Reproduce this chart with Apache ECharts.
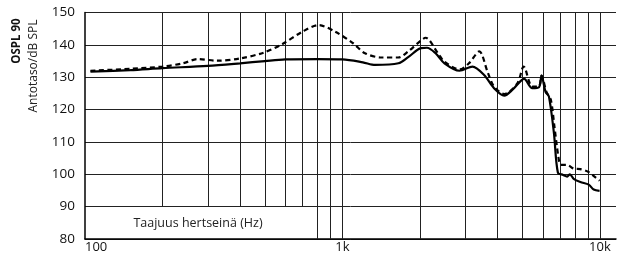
<!DOCTYPE html>
<html><head><meta charset="utf-8">
<script src="https://cdn.jsdelivr.net/npm/echarts@6/dist/echarts.min.js"></script>
<style>html,body{margin:0;padding:0;background:#fff}#c{width:619px;height:258px}</style>
</head><body><div id="c"></div>
<script>
// Data
const solidFreq = [105,150,200,300,400,500,600,800,1000,1200,1340,1650,1800,2020,2130,2300,2490,2850,3200,3550,3880,4250,4600,5080,5460,5800,5935,6150,6340,6630,6870,7200,7460,7650,7910,8400,9050,9460,9970];
const solidDb   = [131.7,132.2,132.8,133.5,134.3,135.0,135.5,135.6,135.5,134.6,133.8,134.3,136.2,139.0,139.1,137.4,134.3,132.0,133.3,130.7,126.6,124.3,126.3,129.5,126.6,126.9,130.5,125.5,124.0,112.7,100.5,99.8,99.3,100.0,98.6,97.6,96.8,95.3,94.9];
const dashFreq  = [105,150,200,240,274,327,400,495,583,700,808,936,1100,1224,1420,1645,1796,2027,2104,2350,2490,2850,3100,3400,3660,3880,4250,4780,5060,5460,5800,5935,6200,6450,6660,6900,7050,7460,7900,8400,9000,9450,9970];
const dashDb    = [132.0,132.6,133.3,134.3,135.6,135.1,135.8,137.6,140.2,144.1,146.1,144.1,140.5,137.4,136.1,136.1,137.9,141.5,142.2,137.4,134.8,132.4,134.3,138.0,131.7,127.1,124.8,128.1,133.3,127.1,127.2,130.5,125.5,123.0,114.7,105.4,102.9,102.9,101.8,101.6,100.8,99.5,98.0];
const xTickLabels = {100: '100', 1000: '1k', 10000: '10k'};
const shortGridFreq = [200,300,400,500,600,700];
const fullGridFreq = [800,900,1000,2000,3000,4000,5000,6000,7000,8000,9000,10000];
const yMin = 80, yMax = 150, yStep = 10, yBoxTop = 90;
const xLabelText = 'Taajuus hertseinä (Hz)';
const yTitleBold = 'OSPL 90';
const yTitle = 'Antotaso/dB SPL';

const FONT = '"Open Sans"';
const chart = echarts.init(document.getElementById('c'), null, {renderer: 'canvas'});
const gridLine = {color: '#222', width: 1, type: 'solid'};
const markData = [];
shortGridFreq.forEach(f => markData.push([{coord: [f, yBoxTop]}, {coord: [f, yMax]}]));
fullGridFreq.forEach(f => markData.push([{coord: [f, yMin]}, {coord: [f, yMax]}]));

chart.setOption({
  animation: false,
  backgroundColor: '#fff',
  grid: {left: 85, right: 0, top: 12.5, bottom: 19, containLabel: false},
  xAxis: {
    type: 'log', logBase: 10, min: 100, max: 11550,
    axisLine: {show: true, lineStyle: {color: '#000', width: 1.5}},
    axisTick: {show: false},
    splitLine: {show: false},
    axisLabel: {
      color: '#111', fontFamily: FONT, fontSize: 13, margin: 2,
      alignMinLabel: 'left',
      formatter: v => xTickLabels[Math.round(v)] || ''
    }
  },
  yAxis: {
    type: 'value', min: yMin, max: yMax, interval: yStep,
    axisLine: {show: true, lineStyle: {color: '#000', width: 1.5}},
    axisTick: {show: false},
    splitLine: {show: true, lineStyle: gridLine},
    axisLabel: {color: '#111', fontFamily: FONT, fontSize: 13.5, margin: 10}
  },
  graphic: [
    {type: 'text', x: 198, y: 223, style: {text: xLabelText, fill: '#222', font: '12.5px ' + FONT, align: 'center', verticalAlign: 'middle'}},
    {type: 'text', x: 16.5, y: 41, rotation: Math.PI / 2, style: {text: yTitleBold, fill: '#111', font: 'bold 11.5px ' + FONT, align: 'center', verticalAlign: 'middle'}},
    {type: 'text', x: 34, y: 66, rotation: Math.PI / 2, style: {text: yTitle, fill: '#222', font: '12px ' + FONT, align: 'center', verticalAlign: 'middle'}}
  ],
  series: [
    {
      type: 'line', data: [], z: 1, silent: true,
      markLine: {silent: true, symbol: ['none', 'none'], label: {show: false}, lineStyle: gridLine, data: markData, z: 1, animation: false}
    },
    {
      type: 'line', data: solidFreq.map((f, i) => [f, solidDb[i]]),
      showSymbol: false, smooth: 0.3, lineStyle: {color: '#000', width: 2.2},
      z: 10
    },
    {
      type: 'line', data: dashFreq.map((f, i) => [f, dashDb[i]]),
      showSymbol: false, smooth: 0.3, lineStyle: {color: '#000', width: 2.2, type: [5, 3.5]},
      z: 9
    }
  ]
});
</script></body></html>
